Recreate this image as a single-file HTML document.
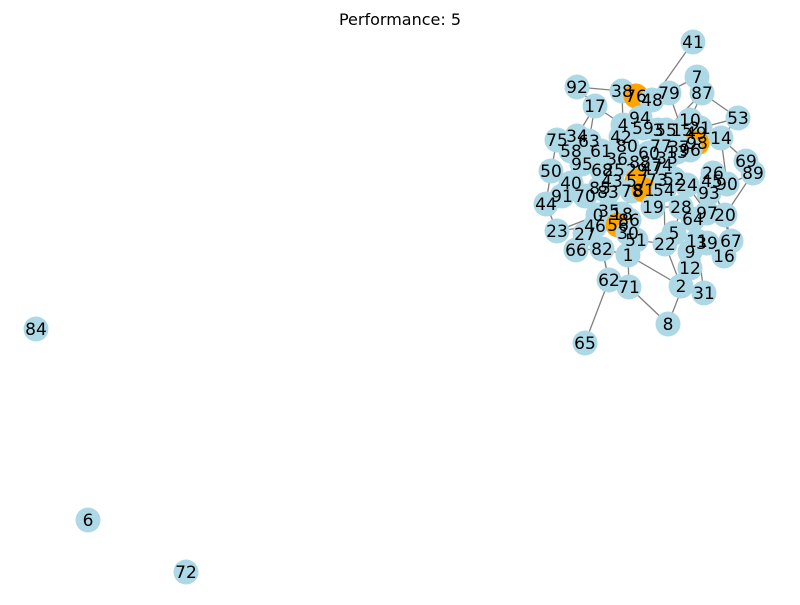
<!DOCTYPE html>
<html><head><meta charset="utf-8"><style>
body{margin:0;background:#fff}
svg text{font-family:"DejaVu Sans","Liberation Sans",sans-serif}
</style></head><body>
<svg id="chart" width="800" height="600" viewBox="0 0 800 600">
<text x="400" y="25" text-anchor="middle" font-size="16">Performance: 5</text>
<g id="edges"></g>
<g id="nodes"></g>
</svg>
<script>
const nodeLabels=["41","7","87","92","38","76","48","79","17","94","53","10","4","59","3","55","15","21","49","98","14","34","75","63","42","58","61","80","77","37","13","60","96","95","36","88","33","69","89","50","68","25","29","47","74","26","45","90","40","57","73","52","24","93","85","43","83","78","81","54","91","70","44","19","28","97","20","64","0","35","18","86","23","46","56","30","27","51","22","5","11","39","9","67","16","66","82","1","12","62","71","2","31","8","65","84","6","72"];
const nodeX=[693,697,702,577,622,636,652,669,595,640,738,690,623,643,658,666,682,700,696,697,721,577,557,589,621,571,601,627,661,679,677,649,690,582,617,640,667,746,753,551,602,614,637,652,662,713,712,727,571,637,657,674,687,709,600,612,608,632,644,664,562,585,546,653,681,707,725,693,598,609,622,629,557,595,618,628,585,636,665,674,697,707,690,731,724,576,602,628,690,609,629,681,704,668,585,36,88,186];
const nodeY=[42,77,93,87,91,96,100,93,106,118,118,120,125,128,130,130,130,128,133,143,138,136,140,141,137,151,151,146,146,147,152,153,150,164,159,162,158,161,173,171,170,170,170,168,165,173,181,184,183,181,180,179,185,193,188,181,192,191,190,190,196,196,204,207,207,213,215,219,215,211,214,220,231,226,225,233,234,240,244,233,241,243,252,241,256,250,249,255,268,280,287,286,293,324,343,329,520,572];
const orangeNodes=["76","98","57","81","56"];
const edgeList=[["41","48"],["92","38"],["92","17"],["17","4"],["17","34"],["38","76"],["76","48"],["48","79"],["79","94"],["7","87"],["87","10"],["87","55"],["53","14"],["53","21"],["14","98"],["14","69"],["69","89"],["89","93"],["89","20"],["75","34"],["75","50"],["50","40"],["50","44"],["44","91"],["44","23"],["23","0"],["23","46"],["27","66"],["66","82"],["82","1"],["1","71"],["62","71"],["62","65"],["62","82"],["71","8"],["8","12"],["2","12"],["2","31"],["2","22"],["12","9"],["31","11"],["16","67"],["16","39"],["67","20"],["20","97"],["97","64"],["64","28"],["28","19"],["19","81"],["81","57"],["57","73"],["73","52"],["52","24"],["24","93"],["93","45"],["45","26"],["26","90"],["90","14"],["4","42"],["42","80"],["80","60"],["60","77"],["77","37"],["37","98"],["98","10"],["10","15"],["15","55"],["55","3"],["3","59"],["59","94"],["94","76"],["63","61"],["61","36"],["36","88"],["88","47"],["47","74"],["74","33"],["33","13"],["58","95"],["95","68"],["68","85"],["85","70"],["70","91"],["83","43"],["43","25"],["25","29"],["29","57"],["78","81"],["54","19"],["35","18"],["18","86"],["86","56"],["56","30"],["30","51"],["51","22"],["22","5"],["5","11"],["11","39"],["9","12"],["5","64"],["1","30"],["27","46"],["46","0"],["0","35"],["40","91"],["17","63"],["38","4"],["21","49"],["49","98"],["7","48"],["79","15"],["87","53"],["1","2"],["5","28"],["82","62"],["24","97"],["45","67"],["57","56"],["56","1"],["18","51"],["29","78"],["54","22"],["60","88"],["77","33"],["3","77"]];
const ix=l=>nodeLabels.indexOf(l);
const NS="http://www.w3.org/2000/svg";
const eg=document.getElementById('edges'),ng=document.getElementById('nodes');
edgeList.forEach(([a,b])=>{const i=ix(a),j=ix(b);if(i<0||j<0)return;
const l=document.createElementNS(NS,'line');


l.setAttribute('x1',nodeX[i]);l.setAttribute('y1',nodeY[i]);l.setAttribute('x2',nodeX[j]);l.setAttribute('y2',nodeY[j]);
l.setAttribute('stroke','#808080');l.setAttribute('stroke-width','1.3');eg.appendChild(l);});
nodeLabels.forEach((lab,i)=>{
const c=document.createElementNS(NS,'circle');


c.setAttribute('cx',nodeX[i]);c.setAttribute('cy',nodeY[i]);c.setAttribute('r',12.5);
c.setAttribute('fill',orangeNodes.includes(lab)?'#ffa500':'#add8e6');ng.appendChild(c);});
nodeLabels.forEach((lab,i)=>{
const t=document.createElementNS(NS,'text');


t.setAttribute('x',nodeX[i]);t.setAttribute('y',nodeY[i]+6);t.setAttribute('text-anchor','middle');t.setAttribute('font-size','17');
t.textContent=lab;ng.appendChild(t);});
</script>
</body></html>
